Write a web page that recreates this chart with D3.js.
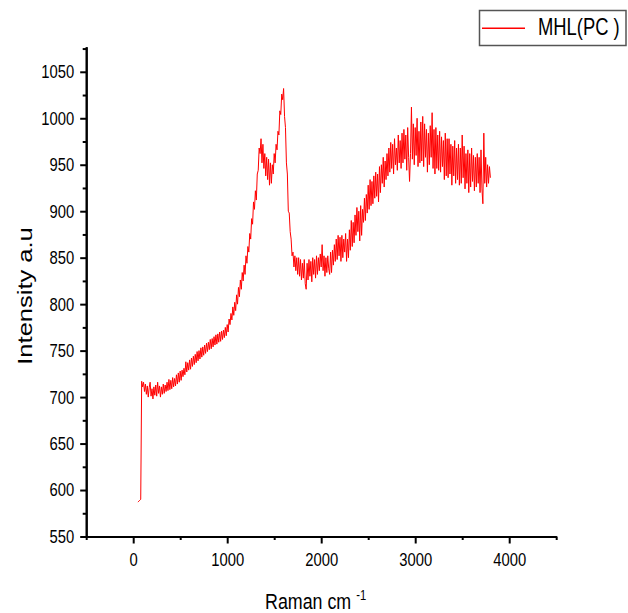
<!DOCTYPE html>
<html>
<head>
<meta charset="utf-8">
<script src="https://cdn.jsdelivr.net/npm/d3@7/dist/d3.min.js"></script>
<style>
  html, body { margin: 0; padding: 0; background: #fff; }
  svg { display: block; }
  text { font-family: "Liberation Sans", Arial, sans-serif; fill: #000; }
</style>
</head>
<body>
<svg id="chart" width="628" height="613"></svg>
<script>
// ---- data ----
const seriesName = "MHL(PC )";
const xTitle = "Raman cm";
const xTitleSup = "-1";
const yTitle = "Intensity a.u";
const xMajorTicks = [0, 1000, 2000, 3000, 4000];
const xMinorTicks = [-500, 500, 1500, 2500, 3500, 4500];
const yMajorTicks = [550, 600, 650, 700, 750, 800, 850, 900, 950, 1000, 1050];
const yMinorTicks = [575, 625, 675, 725, 775, 825, 875, 925, 975, 1025, 1075];
const xDomain = [-500, 4500];
const yDomain = [550, 1077];
// Raman shift sampling grid: first shift and spacing (cm-1)
const shiftStart = 50;
const shiftStep = 10;
// intensity, one value per grid point (50 ... 3800 cm-1)
const intensity = [
  587, 588, 589, 590, 717, 711, 716, 706, 714, 703,
  712, 700, 710, 716, 701, 709, 698, 711, 702, 713,
  701, 716, 704, 712, 700, 711, 703, 714, 704, 713,
  706, 716, 707, 719, 708, 718, 709, 721, 711, 720,
  712, 724, 714, 726, 716, 728, 718, 729, 722, 731,
  724, 738, 727, 737, 729, 740, 730, 742, 733, 744,
  735, 746, 737, 749, 739, 750, 741, 753, 743, 754,
  745, 756, 747, 758, 749, 759, 751, 762, 752, 763,
  754, 765, 756, 767, 757, 768, 759, 770, 760, 771,
  762, 772, 764, 775, 766, 778, 770, 784, 778, 790,
  783, 797, 788, 802, 793, 810, 800, 818, 808, 826,
  816, 834, 825, 842, 832, 852, 844, 862, 856, 876,
  870, 892, 886, 910, 902, 922, 912, 940, 944, 968,
  962, 978, 952, 972, 946, 962, 938, 958, 934, 956,
  928, 952, 930, 950, 940, 962, 952, 972, 966, 986,
  982, 1008, 1004, 1026, 1020, 1032, 1002, 990, 952, 940,
  900, 898, 878, 870, 852, 856, 840, 852, 836, 850,
  832, 850, 830, 848, 826, 844, 828, 848, 822, 816,
  844, 826, 848, 830, 846, 824, 850, 832, 848, 828,
  852, 832, 850, 836, 854, 840, 864, 836, 852, 830,
  850, 834, 852, 838, 832, 856, 834, 858, 842, 864,
  846, 870, 848, 874, 852, 872, 846, 874, 850, 870,
  856, 876, 846, 870, 850, 880, 858, 890, 862, 888,
  866, 896, 874, 904, 878, 900, 868, 906, 874, 902,
  888, 914, 890, 918, 898, 928, 902, 934, 906, 932,
  908, 938, 914, 942, 916, 940, 910, 948, 920, 950,
  930, 958, 926, 954, 934, 962, 938, 968, 942, 974,
  946, 972, 940, 978, 950, 968, 944, 982, 952, 976,
  946, 984, 952, 988, 956, 982, 944, 990, 958, 932,
  962, 1012, 956, 994, 950, 990, 960, 1000, 948, 986,
  952, 996, 954, 1002, 948, 994, 958, 988, 942, 984,
  950, 992, 958, 1006, 946, 988, 940, 990, 946, 982,
  944, 986, 942, 980, 948, 976, 934, 984, 938, 978,
  936, 978, 940, 972, 928, 970, 938, 976, 930, 968,
  934, 972, 928, 968, 930, 982, 936, 970, 924, 962,
  930, 966, 920, 962, 926, 968, 932, 960, 922, 958,
  926, 962, 930, 958, 920, 966, 924, 908, 984, 930,
  958, 926, 950, 930, 948, 936
];

// ---- layout ----
const svg = d3.select("#chart");
const x = d3.scaleLinear().domain(xDomain).range([86.2, 556.2]);
const y = d3.scaleLinear().domain(yDomain).range([536.5, 46.7]);
const SX = 0.8; // horizontal squeeze of the reference text

const data = intensity.map((v, i) => ({ s: shiftStart + i * shiftStep, v }));

// line
svg.append("path")
  .datum(data)
  .attr("fill", "none")
  .attr("stroke", "#ff0000")
  .attr("stroke-width", 1)
  .attr("d", d3.line().x(d => x(d.s)).y(d => y(d.v)));

const fmt = d3.format("d");

// y axis
const yAxisG = svg.append("g").attr("transform", `translate(${x(xDomain[0])},0)`);
yAxisG.append("g")
  .call(d3.axisLeft(y).tickValues(yMinorTicks).tickSize(3.5).tickFormat("").tickSizeOuter(0));
yAxisG.append("g")
  .call(d3.axisLeft(y).tickValues(yMajorTicks).tickSize(6).tickFormat(fmt).tickSizeOuter(0))
  .call(g => g.selectAll("text")
    .attr("x", -12 / SX)
    .attr("transform", `scale(${SX},1)`)
    .style("font-size", "18.5px")
    .style("font-family", "'Liberation Sans', Arial, sans-serif")
    .attr("fill", "#000"));

// x axis
const xAxisG = svg.append("g").attr("transform", `translate(0,${y(yDomain[0])})`);
xAxisG.append("g")
  .call(d3.axisBottom(x).tickValues(xMinorTicks).tickSize(3.5).tickFormat("").tickSizeOuter(0));
xAxisG.append("g")
  .call(d3.axisBottom(x).tickValues(xMajorTicks).tickSize(7).tickFormat(fmt).tickSizeOuter(0))
  .call(g => g.selectAll("text")
    .attr("y", 30).attr("dy", 0)
    .attr("transform", `scale(${SX},1)`)
    .style("font-size", "18.5px")
    .style("font-family", "'Liberation Sans', Arial, sans-serif")
    .attr("fill", "#000"));

svg.selectAll(".domain, .tick line").attr("stroke", "#000").attr("stroke-width", 2);

// axis titles
const xt = svg.append("text")
  .attr("transform", `translate(265,609) scale(${SX},1)`)
  .style("font-size", "22.3px");
xt.append("tspan").text(xTitle + " ");
xt.append("tspan").attr("dy", -9).style("font-size", "14px").text(xTitleSup);

svg.append("text")
  .attr("transform", `translate(32,296) scale(${SX},1) rotate(-90)`)
  .attr("text-anchor", "middle")
  .style("font-size", "25.5px")
  .text(yTitle);

// legend
const lg = svg.append("g");
lg.append("rect")
  .attr("x", 479.5).attr("y", 10.5).attr("width", 146.5).attr("height", 35)
  .attr("fill", "#fff").attr("stroke", "#555").attr("stroke-width", 1.5);
lg.append("line")
  .attr("x1", 482).attr("x2", 525).attr("y1", 28.3).attr("y2", 28.3)
  .attr("stroke", "#ff0000").attr("stroke-width", 1.5);
lg.append("text")
  .attr("transform", `translate(538,35) scale(${SX},1)`)
  .style("font-size", "23px")
  .text(seriesName);
</script>
</body>
</html>
